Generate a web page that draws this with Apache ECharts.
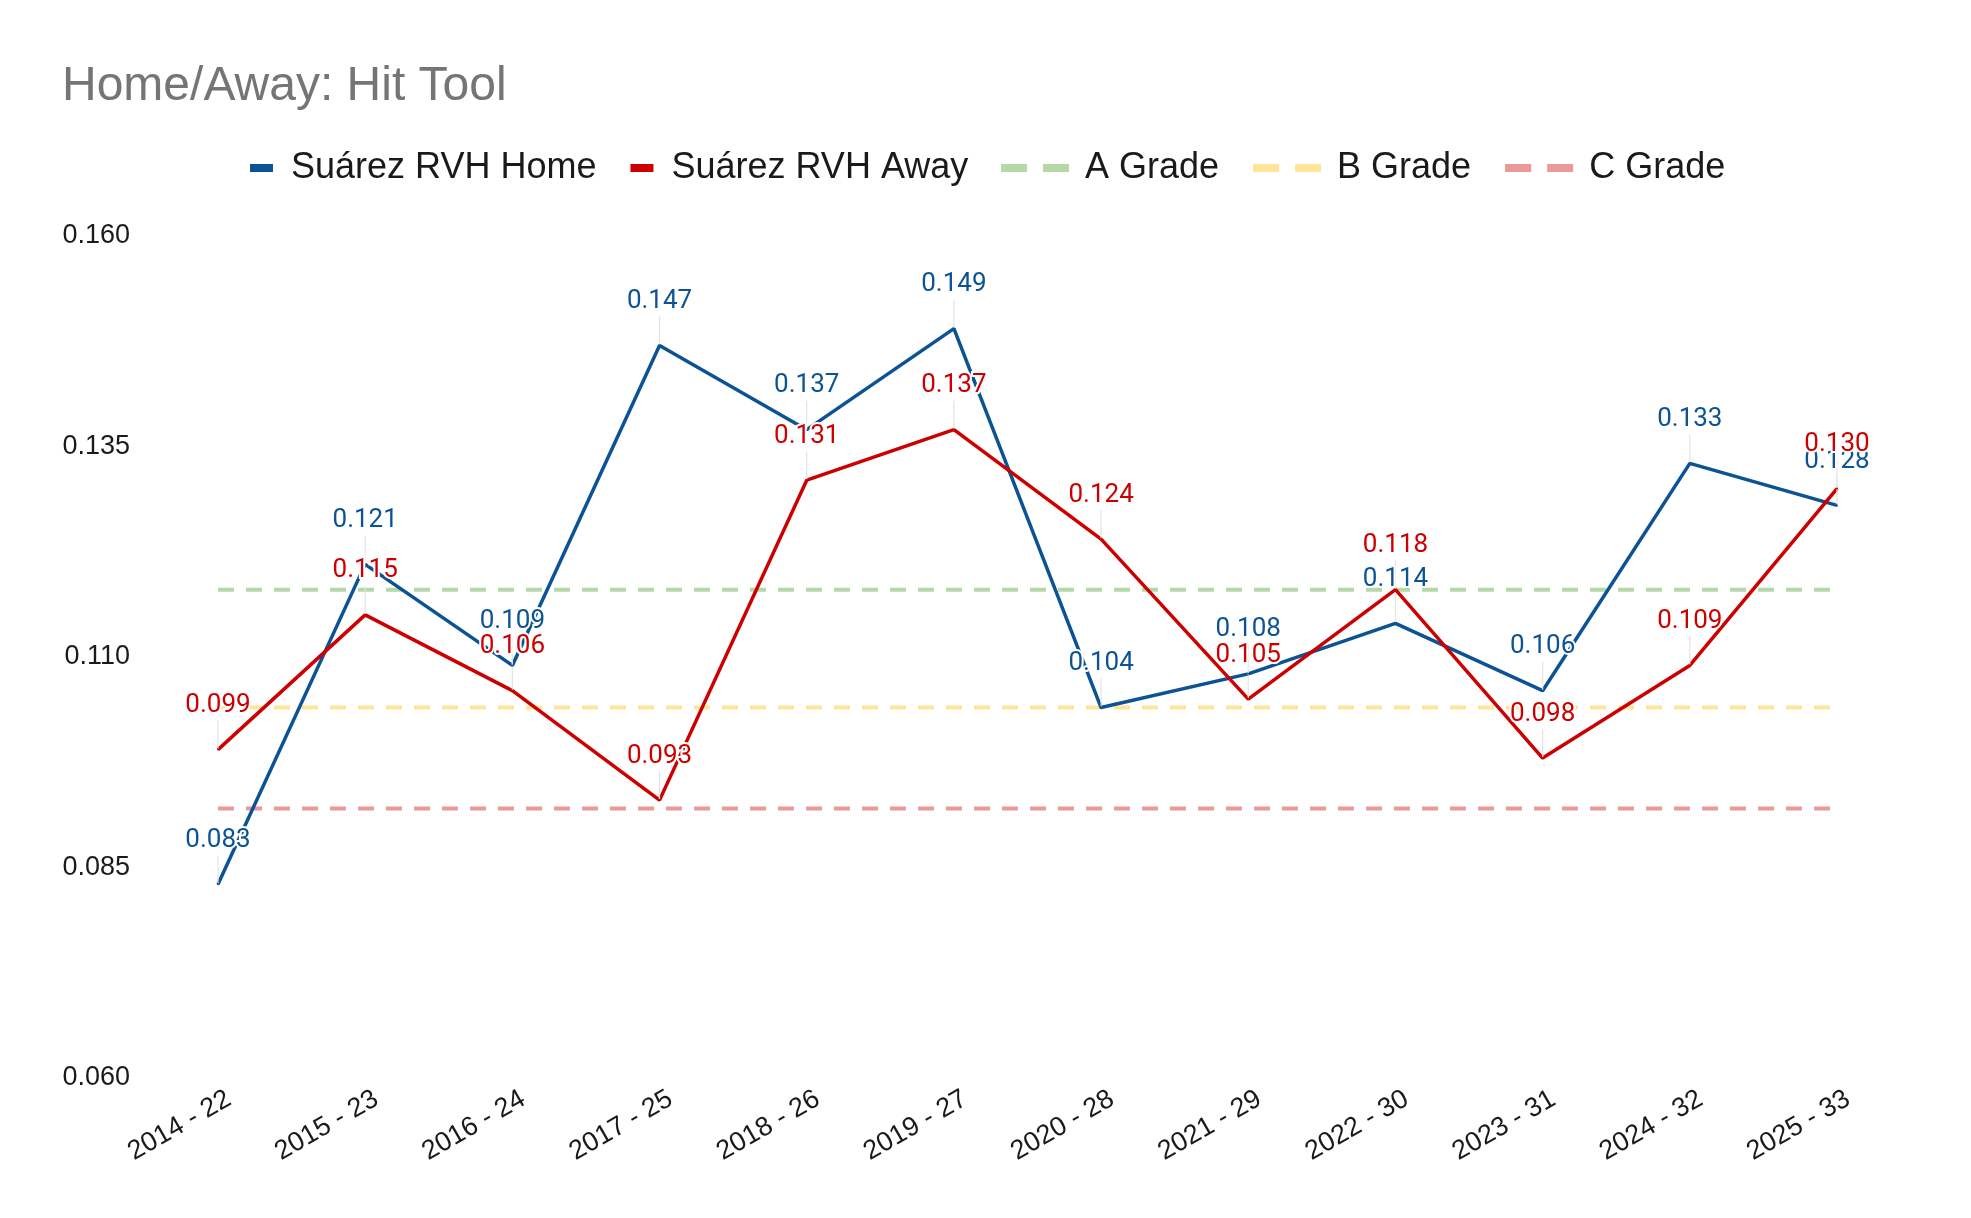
<!DOCTYPE html>
<html>
<head>
<meta charset="utf-8">
<style>
  html, body { margin: 0; padding: 0; background: #ffffff; }
  #chart { width: 1971px; height: 1218px; }
</style>
<script src="https://cdn.jsdelivr.net/npm/echarts@6/dist/echarts.min.js"></script>
</head>
<body>
<div id="chart"></div>
<script>
const categories = ['2014 - 22', '2015 - 23', '2016 - 24', '2017 - 25', '2018 - 26', '2019 - 27',
                    '2020 - 28', '2021 - 29', '2022 - 30', '2023 - 31', '2024 - 32', '2025 - 33'];
const homeValues = [0.083, 0.121, 0.109, 0.147, 0.137, 0.149, 0.104, 0.108, 0.114, 0.106, 0.133, 0.128];
const awayValues = [0.099, 0.115, 0.106, 0.093, 0.131, 0.137, 0.124, 0.105, 0.118, 0.098, 0.109, 0.130];
const gradeNames = ['A Grade', 'B Grade', 'C Grade'];
const gradeValues = [0.118, 0.104, 0.092];
const yTicks = { min: 0.060, max: 0.160, interval: 0.025 };

const HOME = '#0b5394', AWAY = '#cc0000';
const GRADE_COLORS = ['#b6d7a8', '#ffe599', '#ea9999'];

function mainSeries(name, data, color) {
  return {
    name: name,
    type: 'line',
    data: data,
    symbol: 'circle',
    symbolSize: 2,
    showSymbol: true,
    itemStyle: { color: color },
    lineStyle: { color: color, width: 3.5 },
    emphasis: { disabled: true },
    label: {
      show: true,
      position: 'top',
      distance: 5,
      color: color,
      fontFamily: 'Roboto',
      fontSize: 26,
      textBorderColor: '#ffffff',
      textBorderWidth: 4,
      formatter: p => p.value.toFixed(3)
    },
    labelLayout: { dy: -25 },
    labelLine: { show: true, lineStyle: { color: '#e4e4e4', width: 1.2 } },
    z: 3
  };
}

const gradeSeries = gradeNames.map((n, i) => ({
  name: n,
  type: 'line',
  data: categories.map(() => gradeValues[i]),
  symbol: 'none',
  itemStyle: { color: GRADE_COLORS[i] },
  lineStyle: { color: GRADE_COLORS[i], width: 4, type: [16, 12] },
  emphasis: { disabled: true },
  silent: true,
  z: 2
}));

const chart = echarts.init(document.getElementById('chart'), null, { renderer: 'canvas' });
chart.setOption({
  backgroundColor: '#ffffff',
  animation: false,
  title: {
    text: 'Home/Away: Hit Tool',
    left: 57,
    top: 58,
    textStyle: { fontFamily: 'Liberation Sans', fontSize: 48, fontWeight: 'normal', color: '#757575' }
  },
  legend: [
    {
      data: [{ name: 'Suárez RVH Home', icon: 'rect' }, { name: 'Suárez RVH Away', icon: 'rect' }],
      left: 245,
      top: 145,
      itemWidth: 23,
      itemHeight: 8,
      itemGap: 34,
      itemStyle: { borderWidth: 0 },
      textStyle: { fontFamily: 'Liberation Sans', fontSize: 36, color: '#1a1a1a', padding: [0, 0, 0, 13] }
    },
    {
      data: gradeNames.map(n => ({ name: n, icon: 'path://M0,0h26v8h-26z M42,0h26v8h-26z' })),
      left: 996,
      top: 145,
      itemWidth: 68,
      itemHeight: 8,
      itemGap: 34,
      itemStyle: { borderWidth: 0 },
      textStyle: { fontFamily: 'Liberation Sans', fontSize: 36, color: '#1a1a1a', padding: [0, 0, 0, 11] }
    }
  ],
  grid: { left: 218, right: 134, top: 236, bottom: 140, containLabel: false },
  xAxis: {
    type: 'category',
    data: categories,
    boundaryGap: false,
    axisLine: { show: false },
    axisTick: { show: false },
    splitLine: { show: false },
    axisLabel: {
      rotate: 30,
      margin: 0,
      interval: 0,
      verticalAlign: 'top',
      lineHeight: 44,
      fontFamily: 'Liberation Sans',
      fontSize: 27,
      color: '#1a1a1a'
    }
  },
  yAxis: {
    type: 'value',
    min: yTicks.min,
    max: yTicks.max,
    interval: yTicks.interval,
    axisLine: { show: false },
    axisTick: { show: false },
    splitLine: { show: false },
    axisLabel: {
      margin: 88,
      fontFamily: 'Liberation Sans',
      fontSize: 27,
      color: '#1a1a1a',
      formatter: v => v.toFixed(3)
    }
  },
  series: [
    mainSeries('Suárez RVH Home', homeValues, HOME),
    mainSeries('Suárez RVH Away', awayValues, AWAY)
  ].concat(gradeSeries)
});
</script>
</body>
</html>
